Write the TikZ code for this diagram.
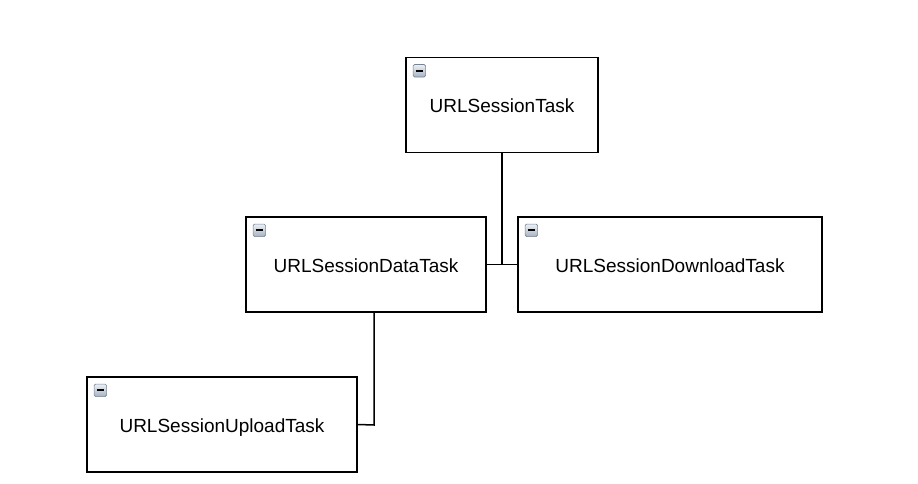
\documentclass[tikz,border=0pt]{standalone}
\usepackage{fontspec}
\setmainfont{Liberation Sans}
\usetikzlibrary{positioning,calc}
\definecolor{iconedge}{RGB}{120,130,145}
\definecolor{icontop}{RGB}{235,240,246}
\definecolor{iconbot}{RGB}{165,178,196}

\begin{document}
\begin{tikzpicture}[
      x=1pt, y=-1pt,
      cls/.style={draw=black, line width=1.5pt, fill=white,
                  minimum height=95pt, inner sep=0pt,
                  text height=16pt, text depth=0pt,
                  font=\fontsize{19}{22}\selectfont},
      icon/.style={draw=iconedge, line width=0.7pt, rounded corners=1.5pt,
                   top color=icontop, bottom color=iconbot,
                   minimum size=12.5pt, inner sep=0pt},
      link/.style={line width=1.5pt, color=black}
    ]
    \useasboundingbox (0,0) rectangle (918,484);
    \node[cls, minimum width=192pt] (task) at (502,105) {URLSessionTask};
    \node[cls, minimum width=240pt] (data) at (366,264.5) {URLSessionDataTask};
    \node[cls, minimum width=304pt] (down) at (670,264.5) {URLSessionDownloadTask};
    \node[cls, minimum width=270pt] (upl) at (222,424.5) {URLSessionUploadTask};
    % collapse markers
    \foreach \n in {task,data,down,upl}{
      \node[icon, anchor=north west] (\n icon) at ($(\n.north west)+(7.5,7.5)$) {};
      \draw[line width=2pt] ($(\n icon.center)+(-3.6,0)$) -- ($(\n icon.center)+(3.6,0)$);
    }
    % inheritance links
    \coordinate (join) at (502,265);
    \coordinate (bend) at (374,425);
    \draw[link] (task.south) -- (join);
    \draw[link] (data.east) -- (down.west);
    \draw[link] (data.south -| bend) -- (bend) -- (upl.east);
  \end{tikzpicture}
\end{document}
